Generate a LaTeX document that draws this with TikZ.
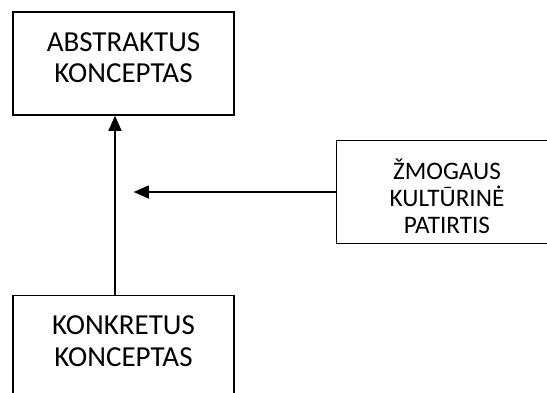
\documentclass[tikz,border=0pt]{standalone}
\usepackage{fontspec}
\setmainfont{Carlito}
\usepackage{tikz}
\usetikzlibrary{positioning,arrows.meta}

\begin{document}
\begin{tikzpicture}[
  x=0.5pt,y=-0.5pt,
  box/.style={draw,line width=0.75pt,minimum width=110.5pt,minimum height=51.5pt,inner sep=0pt},
  bigtxt/.style={align=center,inner sep=0pt,font=\fontsize{14.5}{15.8}\selectfont},
  smalltxt/.style={align=center,inner sep=0pt,font=\fontsize{12.6}{13.5}\selectfont},
  >={Triangle[length=7.5pt,width=6.5pt]}
]
  \useasboundingbox (0,0) rectangle (547,392);
  \node[box] (abstr) at (123.5,63.5) {};
  \node[box,below=89.5pt of abstr] (konkr) {};
  \node[box,below right=12pt and 50.5pt of abstr] (kult) {};
  \node[bigtxt] (abstrlbl) at ([yshift=3pt]abstr.center) {ABSTRAKTUS\\KONCEPTAS};
  \node[bigtxt] (konkrlbl) at ([yshift=3pt]konkr.center) {KONKRETUS\\KONCEPTAS};
  \node[smalltxt] (kultlbl) at ([yshift=-2pt]kult.center) {ŽMOGAUS\\KULTŪRINĖ\\PATIRTIS};
  \coordinate (tip) at ([xshift=-101pt]kult.west);
  \draw[->,line width=0.75pt] ([xshift=-4.25pt]konkr.north) -- ([xshift=-4.25pt]abstr.south);
  \draw[->,line width=0.75pt] (kult.west) -- (tip);
\end{tikzpicture}
\end{document}
